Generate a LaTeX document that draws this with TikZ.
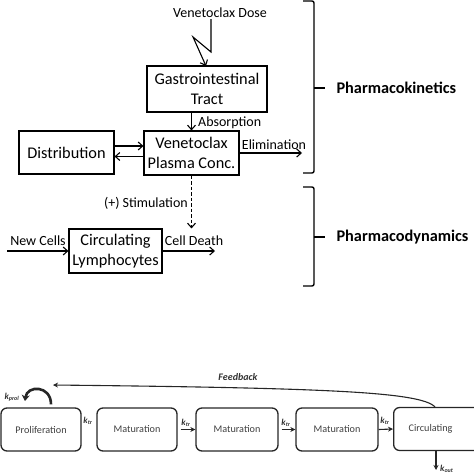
\documentclass[tikz,border=0pt]{standalone}
\usepackage{fontspec}
\setmainfont{Carlito}
\usetikzlibrary{arrows.meta,calc}
\begin{document}
\begin{tikzpicture}[x=1pt,y=-1pt,
  box/.style={draw, line width=1.1pt, font=\fontsize{16.3}{19.5}\selectfont, align=center, inner sep=0pt},
  lab/.style={font=\fontsize{14}{16}\selectfont, inner sep=1pt},
  arr/.style={line width=1.1pt, -{Straight Barb[length=4.5pt,width=8pt]}},
  brace/.style={line width=1.4pt, rounded corners=2pt},
  big/.style={font=\fontsize{16.3}{18}\selectfont\bfseries},
  rbox/.style={draw=black!85, line width=1.3pt, rounded corners=6pt, text=black!75, font=\fontsize{10.2}{12}\selectfont, minimum height=43pt, inner sep=0pt},
  klab/.style={font=\fontsize{9}{10}\selectfont\bfseries\itshape, text=black!80, inner sep=0pt},
  karr/.style={line width=1.1pt, draw=black!85, -{Stealth[length=5pt,width=5pt]}},
]
\useasboundingbox (0,0) rectangle (474,474);

% ---------- PK / PD scheme ----------
\node[lab] (dose) at (220,13) {Venetoclax Dose};
\node[box, minimum width=120pt, minimum height=46pt] (gi) at (207,89) {Gastrointestinal\\Tract};
\node[box, minimum width=95pt, minimum height=44pt] (plasma) at (191.5,153) {Venetoclax\\Plasma Conc.};
\node[box, minimum width=95pt, minimum height=43pt] (dist) at (66.5,152.5) {Distribution};
\node[box, minimum width=93pt, minimum height=44pt] (lymph) at (115.5,251) {Circulating\\Lymphocytes};

\coordinate (z1) at (211,52);
\coordinate (z2) at (193,37);
\coordinate (z3) at (206,66);
\draw[arr] (dose.south -| z1) -- (z1) -- (z2) -- (z3);

\draw[arr] (gi.south -| plasma.north) -- (plasma.north);
\node[lab, anchor=west] (absl) at (197,123) {Absorption};

\draw[arr] ([yshift=6.5pt]dist.east) -- ([yshift=6.5pt]dist.east -| plasma.west);
\draw[arr] ([yshift=-3.5pt]plasma.west) -- ([yshift=-3.5pt]plasma.west -| dist.east);

\coordinate (elim) at (302,153);
\draw[arr] (plasma.east) -- (elim);
\node[lab] (eliml) at (274,145) {Elimination};

\draw[arr, dash pattern=on 3.5pt off 2pt] (plasma.south) -- (lymph.north -| plasma.south);
\node[lab, anchor=east] (stiml) at (189,203) {(+) Stimulation};

\coordinate (nc) at (7,251);
\draw[arr] (nc) -- (lymph.west);
\node[lab] (ncl) at (38,241) {New Cells};

\coordinate (cd) at (215,251);
\draw[arr] (lymph.east) -- (cd);
\node[lab] (cdl) at (194,241) {Cell Death};

% braces
\draw[brace] (303,1) -- (314,1) -- (314,173) -- (303,173);
\draw[line width=1.4pt] (314,88) -- (325,88);
\node[big, anchor=west] (pk) at (333,88) {Pharmacokinetics};
\draw[brace] (303,187) -- (314,187) -- (314,286) -- (303,286);
\draw[line width=1.4pt] (314,237) -- (325,237);
\node[big, anchor=west] (pd) at (333,237) {Pharmacodynamics};

% ---------- transit compartment model ----------
\node[rbox, minimum width=80pt] (prolif) at (41,429.5) {Proliferation};
\node[rbox, minimum width=80pt] (mat1) at (137,429.5) {Maturation};
\node[rbox, minimum width=82pt] (mat2) at (237,429.5) {Maturation};
\node[rbox, minimum width=82pt] (mat3) at (337,429.5) {Maturation};
\node[rbox, anchor=west, text width=65pt, align=left, inner xsep=15pt] (circ) at (393,429) {Circulating};

\node[klab] (ktr1) at (88,421) {k\textsubscript{tr}};
\draw[karr] ([xshift=3pt]mat1.east) -- (mat2.west);
\node[klab] (ktr2) at (186,423) {k\textsubscript{tr}};
\draw[karr] ([xshift=3pt]mat2.east) -- (mat3.west);
\node[klab] (ktr3) at (286,423) {k\textsubscript{tr}};
\draw[karr] (mat3.east) -- (circ.west);
\node[klab] (ktr4) at (385,421) {k\textsubscript{tr}};

\coordinate (fbx) at (435,407);
\coordinate (fbend) at (53,385);
\draw[karr] (circ.north -| fbx) .. controls (420,392) and (330,388) .. (fbend);
\node[klab, font=\fontsize{10}{12}\selectfont\bfseries\itshape] (fbl) at (238,377) {Feedback};

\coordinate (kout) at (436,470);
\draw[karr] (circ.south -| kout) -- (kout);
\node[klab, anchor=west] (koutl) at (440,469) {k\textsubscript{out}};

\draw[line width=2.6pt, draw=black!85, -{Stealth[length=6pt,width=8pt]}] ([shift={(10pt,3pt)}]prolif.north) .. controls (51,385) and (27,385) .. (25,401);
\node[klab] (kprol) at (12,397) {k\textsubscript{prol}};
\end{tikzpicture}
\end{document}
